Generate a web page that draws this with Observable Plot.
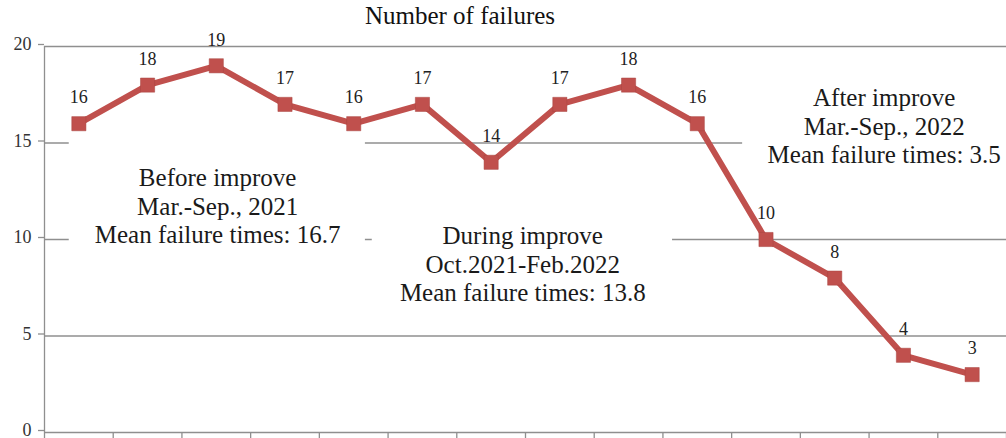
<!DOCTYPE html>
<html>
<head>
<meta charset="utf-8">
<script src="https://cdn.jsdelivr.net/npm/d3@7"></script>
<script src="https://cdn.jsdelivr.net/npm/@observablehq/plot@0.6"></script>
<style>
  body { margin: 0; background: #fff; }
  #wrap { position: relative; width: 1006px; height: 438px; }
  #title { position: absolute; left: 0; top: 2px; width: 920px; text-align: center; z-index: 2;
           font-family: "Liberation Serif", serif; font-size: 25px; color: #111; }
  #chart { position: absolute; left: 0; top: 0; }
</style>
</head>
<body>
<div id="wrap">
  <div id="title">Number of failures</div>
  <div id="chart"></div>
</div>
<script>
// Data
const months = ["Mar 2021","Apr 2021","May 2021","Jun 2021","Jul 2021","Aug 2021","Sep 2021",
                "Oct 2021","Nov 2021","Dec 2021","Jan 2022","Feb 2022","Mar 2022","Apr 2022"];
const failures = [16, 18, 19, 17, 16, 17, 14, 17, 18, 16, 10, 8, 4, 3];
const yTicks = [0, 5, 10, 15, 20];

// Annotations (text + placement in data units)
const noteText = [
  "Before improve\nMar.-Sep., 2021\nMean failure times: 16.7",
  "During improve\nOct.2021-Feb.2022\nMean failure times: 13.8",
  "After improve\nMar.-Sep., 2022\nMean failure times: 3.5"
];
const noteX = [2.52, 6.96, 12.22];
const noteY = [11.76, 8.76, 15.9];
const boxX1 = [0.36, 4.77, 10.16];
const boxX2 = [4.67, 9.14, 14];
const boxY1 = [9.5, 6.5, 14.6];
const boxY2 = [15.5, 11.5, 18.6];

const pts = failures.map((v, i) => ({ month: months[i], x: i + 0.5, v }));
const notes = noteText.map((t, i) => ({ t, x: noteX[i], y: noteY[i], x1: boxX1[i], x2: boxX2[i], y1: boxY1[i], y2: boxY2[i] }));
const xTicks = d3.range(0, months.length + 1);

const red = "#c0504d";
const grid = "#8f8f8f";

const plot = Plot.plot({
  width: 1006,
  height: 438,
  marginLeft: 44,
  marginRight: 0,
  marginTop: 46,
  marginBottom: 6,
  style: { fontFamily: "Liberation Serif, serif", background: "#fff", overflow: "visible" },
  x: { type: "linear", domain: [0, months.length], axis: null },
  y: { type: "linear", domain: [0, 20], axis: null },
  marks: [
    Plot.ruleY(yTicks.filter(d => d > 0), { stroke: grid, strokeWidth: 1.3 }),
    Plot.rect(notes, { x1: "x1", x2: "x2", y1: "y1", y2: "y2", fill: "#fff" }),
    Plot.ruleY([0], { stroke: grid, strokeWidth: 1.3 }),
    Plot.ruleX([0], { stroke: grid, strokeWidth: 1.3 }),
    Plot.axisX({ ticks: xTicks, tickFormat: () => "", tickSize: 6, stroke: grid, strokeWidth: 1.3 }),
    Plot.axisY({ ticks: yTicks, tickSize: 6, tickPadding: 7, stroke: grid, strokeWidth: 1.3, fontSize: 18, fill: "#333", dy: -2, tickFormat: d3.format("d") }),
    Plot.line(pts, { x: "x", y: "v", stroke: red, strokeWidth: 6 }),
    Plot.dot(pts, { x: "x", y: "v", symbol: "square", r: 8, fill: red, stroke: "#a94441", strokeWidth: 0.5 }),
    Plot.text(pts, { x: "x", y: "v", text: d => String(d.v), dy: -26, fontSize: 18, fill: "#222" }),
    Plot.text(notes, { x: "x", y: "y", text: "t", fontSize: 25, lineHeight: 1.14, fill: "#1a1a1a" })
  ]
});
document.getElementById("chart").appendChild(plot);
</script>
</body>
</html>
